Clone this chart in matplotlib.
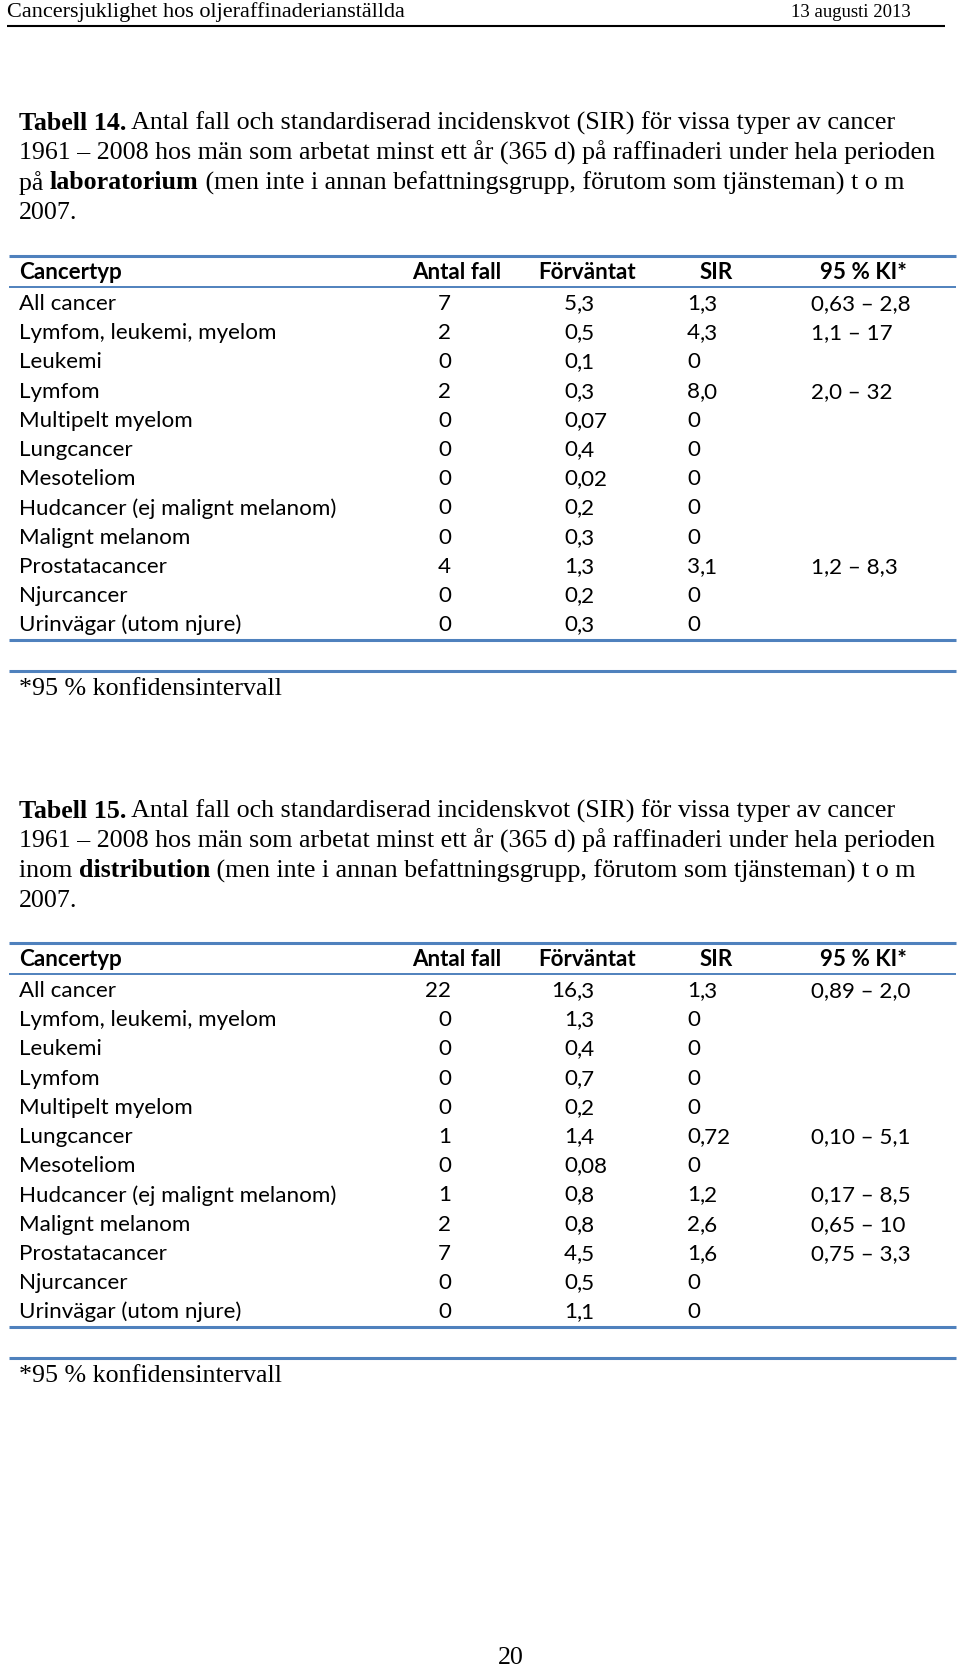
import matplotlib
matplotlib.use("Agg")
import matplotlib.pyplot as plt

cancer_types = ["All cancer", "Lymfom, leukemi, myelom", "Leukemi", "Lymfom",
                "Multipelt myelom", "Lungcancer", "Mesoteliom",
                "Hudcancer (ej malignt melanom)", "Malignt melanom",
                "Prostatacancer", "Njurcancer", "Urinvägar (utom njure)"]
columns = ["Cancertyp", "Antal fall", "Förväntat", "SIR", "95 % KI*"]

t14_cases = [7, 2, 0, 2, 0, 0, 0, 0, 0, 4, 0, 0]
t14_expected = ["5,3", "0,5", "0,1", "0,3", "0,07", "0,4", "0,02", "0,2", "0,3", "1,3", "0,2", "0,3"]
t14_sir = ["1,3", "4,3", "0", "8,0", "0", "0", "0", "0", "0", "3,1", "0", "0"]
t14_ci = ["0,63 – 2,8", "1,1 – 17", "", "2,0 – 32", "", "", "", "", "", "1,2 – 8,3", "", ""]

t15_cases = [22, 0, 0, 0, 0, 1, 0, 1, 2, 7, 0, 0]
t15_expected = ["16,3", "1,3", "0,4", "0,7", "0,2", "1,4", "0,08", "0,8", "0,8", "4,5", "0,5", "1,1"]
t15_sir = ["1,3", "0", "0", "0", "0", "0,72", "0", "1,2", "2,6", "1,6", "0", "0"]
t15_ci = ["0,89 – 2,0", "", "", "", "", "0,10 – 5,1", "", "0,17 – 8,5", "0,65 – 10", "0,75 – 3,3", "", ""]

page_header = "Cancersjuklighet hos oljeraffinaderianställda"
page_date = "13 augusti 2013"
page_no = "20"
footnote = "*95 % konfidensintervall"

caption14 = [
    [("Tabell 14.", "bold"), (" Antal fall och standardiserad incidenskvot (SIR) för vissa typer av cancer", "normal")],
    [("1961 – 2008 hos män som arbetat minst ett år (365 d) på raffinaderi under hela perioden", "normal")],
    [("på ", "normal"), ("laboratorium", "bold"), (" (men inte i annan befattningsgrupp, förutom som tjänsteman) t o m", "normal")],
    [("2007.", "normal")],
]
caption15 = [
    [("Tabell 15.", "bold"), (" Antal fall och standardiserad incidenskvot (SIR) för vissa typer av cancer", "normal")],
    [("1961 – 2008 hos män som arbetat minst ett år (365 d) på raffinaderi under hela perioden", "normal")],
    [("inom ", "normal"), ("distribution", "bold"), (" (men inte i annan befattningsgrupp, förutom som tjänsteman) t o m", "normal")],
    [("2007.", "normal")],
]

SERIF = "Liberation Serif"
SANS = "Lato"
BLUE = "#4f81bd"
CAP_FS = 18.7
TAB_FS = 16.1

fig = plt.figure(figsize=(9.6, 16.68), dpi=100, facecolor="white")
ax = fig.add_axes([0, 0, 1, 1])
ax.set_xlim(0, 960)
ax.set_ylim(1668, 0)
ax.axis("off")
renderer = fig.canvas.get_renderer()


def runs(x, y, parts, size=CAP_FS):
    for txt, w in parts:
        t = ax.text(x, y, txt, fontsize=size, fontweight=w, family=SERIF,
                    va="center", ha="left")
        bb = t.get_window_extent(renderer)
        x += bb.width


def decimal(xc, y, s, size):
    if "," in s:
        a, b = s.split(",")
        ax.text(xc, y, a, fontsize=size, family=SANS, va="center", ha="right")
        ax.text(xc, y, "," + b, fontsize=size, family=SANS, va="center", ha="left")
    else:
        ax.text(xc, y, s, fontsize=size, family=SANS, va="center", ha="right")


def table(top, cases, expected, sir, ci):
    fs = TAB_FS
    ax.plot([9, 956], [top, top], color=BLUE, lw=2.2, solid_capstyle="butt")
    hy = top + 16
    hdr_x = [19, 412, 538, 700]
    for xx, c in zip(hdr_x, columns[:4]):
        ax.text(xx, hy, c, fontsize=fs, fontweight="bold", family=SANS, va="center", ha="left")
    ax.text(907, hy, columns[4], fontsize=fs, fontweight="bold", family=SANS, va="center", ha="right")
    ax.plot([9, 956], [top + 31, top + 31], color=BLUE, lw=1.4, solid_capstyle="butt")
    y0 = top + 48
    for i, name in enumerate(cancer_types):
        y = y0 + i * 29.2
        ax.text(19, y, name, fontsize=fs, family=SANS, va="center", ha="left")
        ax.text(451, y, str(cases[i]), fontsize=fs, family=SANS, va="center", ha="right")
        decimal(577, y, expected[i], fs)
        decimal(700, y, sir[i], fs)
        ax.text(811, y, ci[i], fontsize=fs, family=SANS, va="center", ha="left")
    bot = top + 384
    ax.plot([9, 956], [bot, bot], color=BLUE, lw=2.2, solid_capstyle="butt")
    ax.plot([9, 956], [bot + 31, bot + 31], color=BLUE, lw=2.2, solid_capstyle="butt")
    ax.text(19, bot + 49, footnote, fontsize=CAP_FS, family=SERIF, va="center", ha="left")


# page header
ax.text(7, 12, page_header, fontsize=16, family=SERIF, va="center", ha="left")
ax.text(911, 12, page_date, fontsize=13.5, family=SERIF, va="center", ha="right")
ax.plot([7, 945], [25.5, 25.5], color="black", lw=1.5, solid_capstyle="butt")

for i, line in enumerate(caption14):
    runs(19, 123 + i * 29.9, line)
table(256, t14_cases, t14_expected, t14_sir, t14_ci)

for i, line in enumerate(caption15):
    runs(19, 811 + i * 29.9, line)
table(943, t15_cases, t15_expected, t15_sir, t15_ci)

ax.text(511, 1658, page_no, fontsize=CAP_FS, family=SERIF, va="center", ha="center")

fig.savefig("out.png", dpi=100, facecolor="white")
